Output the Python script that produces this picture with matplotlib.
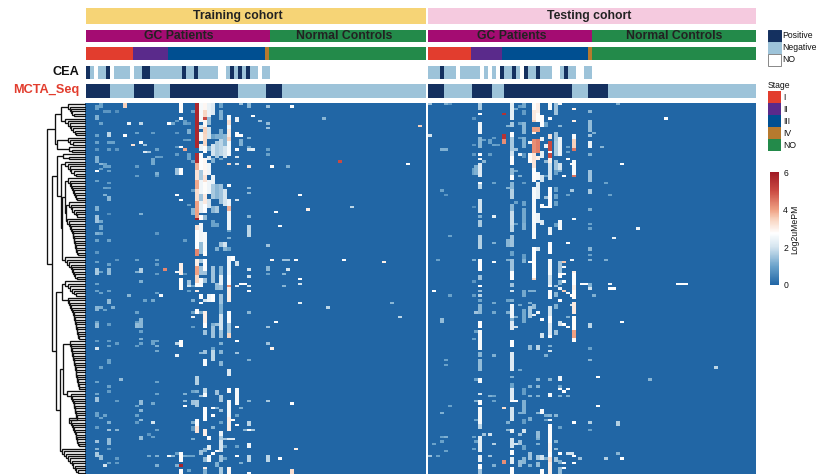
import matplotlib
matplotlib.use("Agg")
import matplotlib.pyplot as plt
import numpy as np
from matplotlib.colors import LinearSegmentedColormap
from matplotlib.patches import Rectangle

plt.rcParams['font.family'] = ['Liberation Sans', 'DejaVu Sans']

N_ROWS = 155
TRAIN_COLS = 85
TEST_COLS = 82

COHORTS = ["Training cohort", "Testing cohort"]
GROUP_LABELS = ["GC Patients", "Normal Controls"]
GROUP_TRAIN = [46, 39]
GROUP_TEST = [41, 41]
STAGE_NAMES = ["I", "II", "III", "IV", "NO"]
STAGE_TRAIN = [11.75, 8.75, 24.25, 1, 39.25]
STAGE_TEST = [10.75, 7.75, 21.5, 1, 41]
STATUS_NAMES = ["Positive", "Negative", "NO"]
# P positive, N negative, - no result
CEA_TRAIN = "PN-NNP-NNNN-NNPPNNNNNNNNPNNPNNNNN--NPNPNPNN-NN" + "-" * 39
CEA_TEST = "NNNPNNN-NNNNN-N-N-PNNPN-PNNPNNN--NPNN--NN" + "-" * 41
MCTA_TRAIN = "PPPPPP" + "N" * 6 + "P" * 5 + "N" * 4 + "P" * 17 + "N" * 7 + "P" * 4 + "N" * 36
MCTA_TEST = "PPPP" + "N" * 7 + "P" * 5 + "N" * 3 + "P" * 17 + "N" * 4 + "P" * 5 + "N" * 37

# heat map cells: column -> (first_row, end_row, value) or (row, value)
TRAIN_CELLS = {
    2: [(1, 3, 1.0), (5, 7, 1.2), (13, 1.0), (16, 1.0), (19, 0.8), (22, 25, 1.2), (28, 2.7), (32, 1.0), (43, 45, 1.2), (47, 50, 1.5), (54, 1.2), (57, 1.0), (62, 0.8), (66, 1.0), (69, 72, 1.6), (75, 1.0), (78, 1.0), (85, 87, 1.3), (91, 1.0), (92, 94, 1.4), (99, 0.9), (102, 2.0), (116, 1.0), (121, 1.1), (123, 125, 1.5), (129, 131, 1.0), (135, 0.9), (141, 1.5), (144, 1.3), (146, 148, 1.6)],
    3: [(0, 2, 1.0), (8, 1.0), (25, 26, 1.3), (27, 1.0), (49, 1.1), (51, 53, 1.1), (54, 1.0), (70, 1.0), (79, 1.0), (85, 1.2), (110, 1.0), (131, 1.0), (147, 149, 1.4)],
    4: [(3, 0.8), (25, 27, 1.0), (35, 1.0), (38, 1.2), (86, 1.0), (130, 1.0), (151, 2.0)],
    5: [(3, 0.8), (12, 14, 1.8), (16, 1.0), (19, 0.9), (26, 1.0), (28, 1.0), (33, 0.9), (35, 0.9), (39, 41, 1.3), (46, 0.7), (57, 1.0), (67, 1.0), (69, 72, 1.4), (78, 1.0), (82, 84, 1.4), (92, 0.9), (99, 0.9), (101, 1.0), (107, 109, 1.0), (118, 1.0), (120, 0.9), (133, 1.2), (136, 1.5), (140, 143, 1.4), (144, 0.9), (150, 1.0)],
    6: [(16, 1.0), (85, 1.2)],
    7: [(3, 0.7), (19, 0.8), (65, 0.8), (100, 0.9), (124, 0.9), (136, 1.3), (148, 0.9), (150, 0.9)],
    8: [(115, 1.4)],
    9: [(0, 2, 3.5), (13, 2.7)],
    10: [(8, 2.4), (80, 1.3)],
    11: [(17, 3.2)],
    12: [(12, 1.0), (26, 0.9), (30, 0.9), (65, 1.0), (70, 1.2), (87, 1.0), (91, 0.9), (92, 94, 1.4), (101, 0.9), (126, 1.0), (130, 1.0), (133, 0.9)],
    13: [(8, 1.8), (16, 2.6), (46, 1.2), (69, 71, 1.7), (74, 1.2), (90, 94, 1.3), (95, 1.0), (98, 1.2), (100, 1.0), (124, 126, 1.4), (128, 1.3), (132, 1.4), (139, 141, 1.4)],
    14: [(17, 1.5), (20, 2.2), (82, 1.0)],
    15: [(20, 1.5), (138, 0.8), (147, 1.1)],
    16: [(12, 0.9), (23, 26, 1.1), (82, 1.1), (99, 101, 1.0), (125, 1.1), (133, 2.0), (139, 1.0)],
    17: [(19, 20, 1.0), (22, 1.0), (29, 1.2), (30, 0.9), (54, 0.8), (65, 1.0), (67, 0.9), (71, 0.9), (79, 1.0), (99, 1.0), (101, 1.2), (103, 1.1), (116, 1.0), (121, 1.0), (136, 1.0), (147, 1.2), (151, 1.2)],
    18: [(22, 0.9), (80, 2.6)],
    19: [(69, 4.3)],
    20: [(8, 2.7), (147, 2.6)],
    21: [(8, 1.1), (147, 1.3)],
    22: [(7, 0.9), (12, 0.8), (18, 0.8), (21, 0.9), (27, 30, 1.5), (38, 2.7), (70, 71, 2.5), (100, 1.8), (105, 2.4), (151, 1.2), (146, 1.0)],
    23: [(0, 4, 2.8), (6, 2.7), (18, 2.7), (27, 30, 2.7), (40, 2.7), (67, 70, 3.0), (70, 72, 3.0), (73, 76, 2.8), (76, 78, 2.8), (99, 102, 2.8), (146, 150, 2.8), (151, 5.8), (153, 155, 2.8)],
    24: [(7, 0.9), (8, 1.0), (15, 0.9), (19, 3.9), (57, 0.9), (71, 0.8), (121, 1.2), (124, 1.4), (126, 2.7), (147, 1.1)],
    25: [(8, 0.8), (11, 13, 1.2), (15, 1.0), (21, 24, 1.0), (42, 0.9), (74, 76, 1.5), (76, 2.0), (78, 1.0), (147, 1.0), (153, 1.0)],
    26: [(3, 1.0), (24, 1.0), (36, 0.9), (44, 47, 1.3), (76, 1.0), (82, 1.2), (87, 1.0), (89, 2.4), (93, 0.9), (120, 1.0), (124, 126, 1.5), (133, 1.2), (135, 137, 0.9), (140, 1.2), (147, 1.0)],
    27: [(0, 19, 5.7), (21, 25, 5.6), (25, 28, 3.8), (28, 32, 3.2), (32, 36, 3.9), (36, 41, 3.3), (41, 48, 4.0), (48, 49, 5.8), (51, 53, 3.2), (53, 61, 2.7), (61, 64, 4.3), (65, 68, 3.0), (68, 72, 4.0), (72, 75, 3.4), (75, 77, 2.7), (78, 79, 3.0), (86, 88, 2.7), (114, 118, 1.7), (120, 1.2), (124, 127, 1.6), (132, 136, 2.7), (135, 138, 3.2)],
    28: [(0, 8, 2.6), (9, 11, 2.0), (12, 16, 2.6), (17, 20, 2.4), (21, 28, 2.7), (28, 32, 1.6), (32, 38, 2.5), (38, 41, 1.5), (41, 46, 2.3), (47, 49, 2.7), (50, 58, 2.5), (58, 63, 1.4), (65, 67, 1.6), (68, 72, 1.5), (73, 76, 2.6), (76, 2.7), (80, 82, 2.7), (83, 2.7), (87, 1.2), (104, 1.3), (122, 1.5), (145, 147, 1.5)],
    29: [(0, 3, 2.9), (3, 6, 3.4), (6, 7, 5.0), (7, 10, 2.9), (10, 13, 3.5), (13, 18, 3.4), (18, 21, 2.8), (23, 30, 2.9), (30, 33, 3.2), (33, 38, 2.8), (38, 42, 3.1), (42, 46, 2.7), (47, 49, 1.4), (54, 62, 2.6), (62, 64, 2.8), (65, 70, 2.7), (70, 72, 1.5), (73, 75, 1.5), (82, 2.0), (87, 92, 3.0), (92, 94, 2.7), (95, 97, 1.5), (103, 105, 1.5), (107, 110, 2.6), (119, 121, 1.8), (121, 123, 2.6), (127, 133, 2.7), (136, 139, 3.0), (144, 146, 1.3), (148, 150, 1.4), (152, 3.0), (153, 155, 1.2)],
    30: [(0, 6, 2.4), (6, 9, 1.4), (10, 15, 2.0), (18, 20, 1.3), (22, 24, 2.2), (25, 30, 2.5), (32, 38, 2.5), (40, 44, 2.0), (80, 83, 2.5), (139, 141, 2.7), (143, 145, 2.3), (147, 150, 2.6)],
    31: [(0, 5, 2.2), (13, 15, 1.0), (17, 22, 2.0), (23, 25, 1.2), (30, 34, 2.4), (34, 40, 1.6), (43, 46, 1.3), (49, 52, 1.0), (68, 75, 1.5), (80, 83, 2.7), (92, 1.2), (93, 98, 1.5), (102, 1.0), (103, 108, 1.8), (127, 2.7), (130, 2.7), (135, 1.3), (146, 2.7)],
    32: [(13, 15, 1.2), (16, 23, 1.6), (34, 40, 1.3), (43, 46, 1.6), (50, 52, 1.0), (60, 62, 1.2), (75, 76, 1.5), (76, 78, 1.4), (92, 1.5), (120, 122, 1.5), (127, 1.2), (145, 2.7), (150, 152, 1.2)],
    33: [(0, 2, 1.0), (3, 5, 1.2), (5, 7, 1.2), (11, 15, 1.2), (15, 22, 1.8), (23, 24, 1.1), (34, 42, 1.5), (58, 60, 1.5), (68, 72, 1.3), (72, 76, 2.3), (76, 78, 1.5), (80, 84, 1.5), (84, 88, 1.2), (88, 95, 2.0), (95, 98, 1.5), (100, 101, 1.2), (103, 105, 1.3), (108, 110, 1.3), (122, 125, 1.6), (128, 1.5), (133, 1.0), (137, 139, 2.4), (139, 141, 1.6), (141, 146, 2.0), (147, 150, 1.5), (152, 155, 1.6)],
    34: [(13, 18, 1.3), (18, 23, 2.0), (36, 43, 2.0), (58, 60, 2.0), (60, 62, 1.3), (140, 1.5), (143, 1.0), (148, 1.0)],
    35: [(5, 14, 2.6), (7, 9, 3.3), (11, 14, 3.1), (14, 16, 3.5), (16, 22, 2.6), (25, 26, 3.4), (34, 35, 2.7), (40, 43, 2.5), (43, 45, 3.8), (45, 53, 2.5), (53, 54, 1.0), (56, 57, 1.2), (60, 62, 1.0), (64, 72, 2.5), (72, 76, 2.7), (76, 77, 4.2), (77, 83, 3.0), (87, 92, 2.7), (92, 96, 1.6), (96, 98, 3.4), (111, 114, 2.2), (119, 121, 2.8), (124, 131, 2.6), (131, 137, 3.0), (140, 2.2), (152, 155, 2.9)],
    36: [(64, 66, 2.7), (132, 2.7), (140, 2.2)],
    37: [(6, 8, 2.4), (12, 14, 2.7), (19, 2.7), (22, 2.0), (25, 2.0), (40, 2.0), (66, 68, 2.0), (76, 2.2), (93, 2.7), (99, 2.7), (104, 1.5), (119, 126, 2.6), (130, 1.0), (134, 2.7), (143, 1.0), (147, 2.7)],
    38: [(0, 1.5), (13, 2.7), (15, 18, 1.2), (75, 2.7), (127, 1.2), (150, 1.2)],
    39: [(136, 1.3), (75, 2.7)],
    40: [(0, 2, 1.3), (14, 1.2), (18, 1.0), (19, 2.0), (26, 3.2), (35, 1.3), (37, 1.3), (47, 1.3), (51, 56, 1.8), (69, 2.0), (72, 2.0), (76, 2.0), (78, 2.7), (87, 1.3), (107, 1.2), (124, 1.3), (133, 135, 1.8), (136, 2.7), (142, 144, 2.5), (147, 150, 1.8), (154, 2.7)],
    41: [(5, 2.7), (19, 2.3), (136, 1.6)],
    43: [(7, 1.5)],
    45: [(1, 1.5), (8, 1.4), (10, 1.5), (19, 1.0), (21, 1.0), (59, 1.5), (68, 70, 1.3), (71, 1.0), (93, 1.5), (100, 1.5), (124, 1.6), (147, 150, 1.8)],
    46: [(26, 2.8), (65, 2.9), (102, 3.0)],
    47: [(45, 2.7), (91, 2.7)],
    48: [(51, 2.6), (148, 2.7)],
    49: [(65, 1.5), (71, 1.3), (76, 1.3)],
    50: [(26, 1.2), (69, 2.0), (65, 1.5)],
    51: [(1, 2.7), (125, 2.7), (153, 155, 3.3)],
    52: [(65, 2.7), (144, 3.0)],
    53: [(38, 2.7), (73, 2.7), (75, 2.0), (83, 2.3)],
    55: [(44, 3.0)],
    59: [(6, 1.3)],
    60: [(85, 1.8)],
    63: [(24, 5.0)],
    64: [(65, 2.7)],
    66: [(43, 1.8)],
    74: [(66, 3.0)],
    76: [(83, 1.3)],
    78: [(89, 1.8)],
    80: [(25, 2.7)],
    83: [(9, 3.5)],
}

TEST_CELLS = {
    0: [(0, 1.5), (13, 2.0), (147, 1.5)],
    1: [(78, 2.7), (142, 1.0)],
    2: [(65, 1.0), (147, 1.0)],
    3: [(19, 20, 1.2), (36, 1.0), (90, 92, 1.4), (129, 1.2), (139, 1.0), (141, 1.0)],
    4: [(0, 1.2), (19, 1.2), (38, 0.8), (107, 1.0), (109, 1.0), (139, 1.2), (145, 1.0)],
    5: [(0, 0.8), (80, 1.0), (126, 1.0), (55, 1.0)],
    11: [(6, 0.8), (17, 0.8), (21, 0.8), (27, 30, 1.0), (43, 0.7), (65, 1.2), (74, 0.8), (80, 0.9), (98, 1.0), (139, 1.0), (144, 1.0)],
    11.5: [(26, 30, 1.2), (87, 1.5), (95, 1.0), (115, 1.0), (124, 1.2), (132, 1.0), (141, 1.0)],
    12.5: [(0, 3, 1.6), (4, 2.7), (8, 13, 2.5), (14, 19, 1.3), (21, 2.7), (23, 2.5), (25, 31, 2.2), (33, 2.7), (34, 36, 1.8), (40, 46, 2.0), (47, 1.2), (49, 52, 1.6), (55, 61, 1.7), (65, 70, 2.7), (72, 74, 1.5), (76, 2.7), (78, 1.5), (80, 1.8), (82, 1.1), (84, 88, 1.3), (91, 94, 2.7), (95, 103, 2.6), (104, 106, 1.3), (107, 112, 1.4), (115, 117, 2.6), (121, 2.0), (124, 126, 2.7), (127, 134, 2.6), (134, 136, 1.8), (139, 146, 2.3), (147, 150, 2.4), (151, 153, 2.7), (153, 155, 1.5)],
    13.5: [(24, 1.3), (15, 1.0), (138, 1.5)],
    15: [(15, 17, 1.0), (21, 0.9), (122, 1.2), (138, 2.0), (147, 1.5)],
    16: [(14, 0.9), (17, 1.0), (33, 1.0), (47, 2.3), (58, 1.2), (66, 2.6), (83, 1.1), (87, 1.1), (105, 1.2), (122, 1.0), (124, 1.0), (142, 1.7), (151, 1.2)],
    17: [(17, 0.9)],
    18.5: [(4, 5.5), (13, 15, 5.5), (15, 17, 4.2), (127, 3.3), (149, 151, 4.2)],
    19.5: [(57, 60, 1.3), (9, 1.2), (35, 1.2), (65, 1.2), (82, 1.0), (87, 1.2), (133, 1.2), (136, 1.3)],
    20.5: [(0, 7, 2.3), (8, 10, 1.6), (12, 14, 2.7), (14, 20, 1.6), (20, 22, 2.0), (22, 26, 2.7), (27, 30, 1.4), (30, 32, 2.7), (33, 36, 1.3), (36, 40, 1.7), (42, 45, 1.3), (45, 51, 1.9), (51, 54, 1.8), (55, 60, 1.5), (62, 64, 1.0), (65, 70, 1.5), (70, 74, 2.7), (75, 77, 1.5), (78, 2.0), (82, 1.2), (84, 90, 2.5), (90, 92, 1.2), (91, 95, 2.2), (99, 102, 2.7), (104, 112, 2.2), (114, 1.2), (117, 119, 1.0), (119, 124, 2.2), (124, 125, 2.7), (127, 133, 2.0), (136, 138, 2.4), (140, 144, 2.0), (145, 147, 2.7), (148, 151, 2.3), (152, 155, 2.7)],
    21.5: [(2, 1.1), (19, 1.5), (28, 1.1), (41, 1.0), (50, 1.0), (89, 1.2), (93, 2.0), (124, 2.7), (142, 2.0)],
    22.5: [(1, 0.9), (8, 1.0), (14, 0.9), (21, 2.3), (30, 1.2), (84, 1.1), (111, 1.1), (129, 1.2), (138, 1.5), (141, 143, 1.5), (149, 152, 1.4)],
    23.5: [(0, 2, 1.1), (3, 5, 0.9), (8, 13, 1.3), (14, 19, 1.2), (21, 23, 0.8), (33, 0.9), (41, 43, 1.0), (44, 50, 1.1), (50, 53, 1.2), (63, 65, 0.9), (65, 67, 1.2), (78, 81, 1.1), (86, 92, 1.1), (119, 122, 0.9), (124, 130, 1.2), (132, 134, 0.9), (136, 138, 2.0), (143, 145, 1.0), (148, 151, 1.3)],
    25: [(16, 2.5), (21, 25, 2.8), (66, 2.7), (78, 1.2), (83, 1.2), (85, 90, 1.6), (101, 103, 1.4), (118, 1.2), (122, 1.3), (131, 133, 1.2), (146, 149, 1.5), (151, 1.2)],
    26: [(0, 3, 2.8), (3, 7, 3.1), (7, 8, 3.5), (10, 12, 4.0), (12, 13, 3.0), (15, 21, 4.2), (21, 27, 3.2), (27, 30, 2.7), (30, 33, 2.8), (35, 46, 2.6), (46, 57, 2.6), (60, 73, 2.7), (73, 74, 3.4), (78, 1.2), (84, 86, 1.4), (88, 2.4)],
    27: [(0, 4, 3.0), (4, 8, 2.8), (10, 12, 4.0), (15, 21, 4.4), (22, 24, 3.0), (29, 32, 2.6), (33, 40, 2.3), (46, 50, 2.4), (60, 62, 2.0), (87, 2.6), (101, 103, 1.8), (115, 1.3), (118, 1.3), (122, 1.2), (129, 1.3), (137, 140, 1.4), (140, 1.2), (142, 1.2), (147, 149, 1.6), (150, 152, 1.4)],
    28: [(5, 10, 2.7), (14, 16, 2.4), (20, 23, 2.3), (30, 33, 2.0), (42, 44, 2.7), (49, 51, 2.2), (90, 2.7), (96, 98, 2.0), (128, 130, 2.6), (147, 149, 2.0), (153, 155, 2.7)],
    29: [(8, 10, 1.0), (17, 19, 2.4), (24, 25, 1.4), (30, 31, 1.0), (39, 40, 1.5), (43, 44, 2.7), (105, 1.2), (130, 1.2), (132, 1.0), (148, 1.2)],
    30: [(0, 3, 2.6), (6, 2.7), (13, 15, 3.2), (16, 20, 5.0), (20, 21, 2.7), (21, 23, 5.0), (23, 25, 3.0), (25, 32, 2.0), (35, 40, 2.7), (40, 44, 2.7), (52, 55, 2.4), (58, 63, 2.7), (65, 72, 2.6), (72, 76, 2.0), (76, 2.7), (78, 82, 2.7), (85, 89, 2.0), (89, 92, 2.8), (92, 97, 2.2), (97, 98, 2.7), (101, 1.2), (103, 2.0), (115, 1.3), (121, 123, 2.6), (130, 1.3), (132, 2.5), (134, 142, 2.7), (142, 146, 2.9), (146, 148, 2.7), (148, 150, 3.3), (150, 155, 3.0)],
    31.5: [(0, 5, 1.5), (12, 16, 1.5), (16, 22, 1.6), (24, 28, 1.5), (28, 30, 1.0), (35, 37, 1.0), (38, 40, 1.0), (41, 43, 1.0), (50, 52, 1.0), (76, 1.5), (79, 81, 1.3), (84, 86, 1.2), (95, 97, 1.5), (130, 1.3), (141, 1.2), (144, 1.4), (148, 150, 1.5)],
    32.5: [(0, 2.6), (9, 1.3), (14, 22, 2.4), (25, 28, 2.0), (28, 1.2), (49, 53, 2.6), (66, 72, 1.5), (71, 73, 2.7), (74, 76, 1.2), (77, 2.5), (82, 2.7), (91, 93, 2.0), (114, 116, 2.5), (118, 1.0), (119, 2.7), (122, 1.2), (135, 1.0), (146, 2.7), (149, 151, 1.2), (152, 155, 1.4)],
    33.5: [(30, 2.7), (66, 3.6), (68, 2.7), (71, 2.7), (74, 2.7), (92, 2.7), (78, 3.5), (120, 2.7), (150, 2.7), (152, 2.7)],
    34.5: [(18, 1.0), (20, 1.0), (23, 2.7), (38, 1.0), (58, 2.7), (79, 2.6), (89, 1.2), (93, 2.7), (119, 2.7), (122, 1.2), (146, 2.0)],
    35.5: [(25, 2.7), (36, 1.6), (65, 2.5), (80, 2.7), (84, 2.0), (146, 2.0)],
    36: [(2, 3.0), (7, 3.0), (13, 15, 2.6), (15, 19, 3.5), (19, 20, 4.5), (24, 30, 2.6), (30, 31, 4.5), (48, 2.6), (70, 3.0), (71, 76, 2.7), (76, 78, 3.0), (78, 82, 2.8), (83, 88, 3.1), (89, 95, 2.8), (95, 98, 4.0), (98, 100, 2.8), (133, 2.7), (147, 2.7), (150, 2.7)],
    37.5: [(148, 1.5)],
    38: [(75, 2.7)],
    39: [(75, 2.7)],
    40: [(3, 1.3), (7, 12, 1.4), (13, 1.5), (16, 19, 2.4), (21, 1.2), (28, 33, 1.5), (36, 38, 1.6), (44, 1.2), (50, 1.0), (52, 1.0), (60, 62, 1.3), (63, 1.0), (65, 1.3), (75, 77, 1.2), (77, 2.0), (92, 94, 1.8), (102, 1.0), (107, 1.3), (133, 1.7), (136, 1.0)],
    41: [(12, 1.2), (80, 1.2)],
    42: [(114, 2.7), (126, 2.7)],
    43: [(18, 1.3)],
    44: [(33, 1.0), (148, 1.7), (65, 1.2)],
    45: [(38, 1.0), (75, 2.5), (77, 2.7)],
    46: [(56, 2.4), (77, 2.7)],
    47: [(0, 1.2), (133, 135, 1.7), (146, 1.3)],
    48: [(25, 2.7), (91, 2.7), (148, 2.7)],
    52: [(52, 2.5)],
    55: [(115, 1.3)],
    59: [(6, 2.7)],
    62: [(75, 2.7)],
    63: [(75, 2.7)],
    64: [(75, 2.7)],
    71.5: [(110, 1.8)],
}

# dendrogram: merge heights of each ladder of leaves, top to bottom
A1 = [18, 16, 15, 14, 12]
A2 = [21, 18, 16, 15, 13, 11, 10]
B1 = [18, 16, 13]
B2 = [17, 14]
C1 = [23, 17]
C3 = [21, 18, 16, 15, 12, 10]
C5A = [18, 16, 15, 14, 13, 12, 11, 10, 9]
C5B = [17, 15, 14, 12, 10, 9]
C5C = [19, 17, 16, 15, 14, 13, 13, 12, 12, 11, 11, 10, 10, 9, 8]
C6 = [21, 19, 17, 15, 14, 13, 12, 11, 9]
E1 = [21, 18, 16, 14, 12, 10]
E2 = [18, 17, 16, 15, 14, 13, 12, 12, 11, 11, 10, 10, 9, 9, 8, 8, 7]
F1 = [16, 15, 15, 14, 14, 13, 13, 12, 12, 11, 11, 10, 10, 10, 9, 9, 8, 8, 7, 7]
F2 = [19, 15, 14, 13, 12, 12, 11, 11, 10, 10, 9, 17, 15, 14, 13, 12, 11, 10, 10, 9, 9, 8, 7]
G = [24, 22, 20, 18, 16, 14, 13, 11, 10, 8]

TREE = (39,
        (30.7, (24.3, A1, A2), (29, B1, B2)),
        (33.3,
         (29, C1, (25, C3, (23.3, (21, C5A, (19.5, C5B, C5C)), C6))),
         (29.3, (24, E1, E2), (26, (22.5, F1, F2), G))))

cmap = LinearSegmentedColormap.from_list("log2", [
    (0.0, "#2166A5"), (1 / 6, "#6BA3CB"), (2 / 6, "#D3E4EF"), (2.75 / 6, "#FFFFFF"),
    (3.5 / 6, "#F8D2BD"), (4 / 6, "#EFA083"), (5 / 6, "#CB4B43"), (1.0, "#A01A25")])

W, H = 830, 476
fig = plt.figure(figsize=(W / 100, H / 100), dpi=100)
STATUS_COLORS = {"P": "#14305F", "N": "#9DC3D9", "-": "#FFFFFF"}
STAGE_COLORS = ["#E23D2E", "#5A2A8B", "#004F91", "#B67A2E", "#238A4A"]
GROUP_COLORS = ["#A40C72", "#238A4A"]
COHORT_COLORS = ["#F6D476", "#F5CADF"]


def px_axes(x0, y0, x1, y1):
    ax = fig.add_axes([x0 / W, 1 - y1 / H, (x1 - x0) / W, (y1 - y0) / H])
    ax.set_axis_off()
    return ax


def segments(ax, widths, colors, n):
    left = 0
    for w, c in zip(widths, colors):
        ax.barh(0, w, left=left, height=1, color=c, linewidth=0)
        left += w
    ax.set_xlim(0, n)
    ax.set_ylim(-0.5, 0.5)


def status_strip(ax, codes, n):
    ax.bar(np.arange(n) + 0.5, [1] * n, width=1.0, bottom=-0.5,
           color=[STATUS_COLORS[c] for c in codes], linewidth=0)
    ax.set_xlim(0, n)
    ax.set_ylim(-0.5, 0.5)


def cells_to_matrix(cells, n, pad):
    m = np.zeros((N_ROWS, n * 2 + pad))
    for col, runs in cells.items():
        c = int(col * 2) + pad
        for run in runs:
            r0, r1, v = run if len(run) == 3 else (run[0], run[0] + 1, run[1])
            m[r0:r1, c:c + 2] = v
    return m


panels = [
    (86, 426, 84.5, 425.3, TRAIN_COLS, GROUP_TRAIN, STAGE_TRAIN, CEA_TRAIN, MCTA_TRAIN, TRAIN_CELLS, 0, 1),
    (428, 756, 428, 756, TEST_COLS, GROUP_TEST, STAGE_TEST, CEA_TEST, MCTA_TEST, TEST_CELLS, 1, 0),
]
for xa, xb, hx0, hx1, n, grp, stg, cea, mcta, cells, i, pad in panels:
    ax = px_axes(xa, 8, xb, 23.5)
    segments(ax, [n], [COHORT_COLORS[i]], n)
    ax = px_axes(xa, 30, xb, 42)
    segments(ax, grp, GROUP_COLORS, n)
    ax = px_axes(xa, 47, xb, 60)
    segments(ax, stg, STAGE_COLORS, n)
    ax = px_axes(xa, 66, xb, 78.5)
    status_strip(ax, cea, n)
    ax = px_axes(xa, 84.5, xb, 98)
    status_strip(ax, mcta, n)
    ax = px_axes(hx0, 103, hx1, 474)
    ax.imshow(cells_to_matrix(cells, n, pad), cmap=cmap, vmin=0, vmax=6, aspect="auto",
              interpolation="nearest", extent=(-pad / 2, n, N_ROWS, 0))

# row titles and header labels
lay = px_axes(0, 0, W, H)
lay.set_xlim(0, W)
lay.set_ylim(H, 0)
lay.patch.set_alpha(0)
for x, lab in zip([237.5, 589], COHORTS):
    lay.text(x, 15.5, lab, ha="center", va="center", fontsize=8.8, fontweight="bold", color="#222222")
for x, lab in zip([179, 344.5, 511.5, 674.5], GROUP_LABELS * 2):
    lay.text(x, 36, lab, ha="center", va="center", fontsize=8.8, fontweight="bold", color="#222222")
lay.text(79.5, 72, "CEA", ha="right", va="center", fontsize=9.2, fontweight="bold", color="#111111")
lay.text(79.5, 89.5, "MCTA_Seq", ha="right", va="center", fontsize=9.2, fontweight="bold", color="#E23D2E")

# status legend
for k, name in enumerate(STATUS_NAMES):
    color = [STATUS_COLORS["P"], STATUS_COLORS["N"], "#FFFFFF"][k]
    lay.add_patch(Rectangle((767.5, 30 + 12 * k), 13, 12, facecolor=color,
                            edgecolor="#888888" if k == 2 else color, linewidth=0.7))
    lay.text(782, 36 + 12 * k, name, ha="left", va="center", fontsize=6.2, color="#111111")

# stage legend
lay.text(768, 85, "Stage", ha="left", va="center", fontsize=6.2, color="#111111")
for k, name in enumerate(STAGE_NAMES):
    lay.add_patch(Rectangle((768, 91 + 12 * k), 12.5, 12, facecolor=STAGE_COLORS[k], linewidth=0))
    lay.text(783, 97 + 12 * k, name, ha="left", va="center", fontsize=6.2, color="#111111")

# colour bar
cax = fig.add_axes([770 / W, 1 - 285 / H, 9 / W, 113 / H])
sm = plt.cm.ScalarMappable(norm=plt.Normalize(0, 6), cmap=cmap)
cb = fig.colorbar(sm, cax=cax, ticks=[0, 2, 4, 6])
cb.outline.set_visible(False)
cb.ax.tick_params(length=0, labelsize=6.2, pad=3, labelcolor="#111111")
lay.text(794.5, 229, "Log2uMePM", rotation=90, ha="center", va="center", fontsize=6.2, color="#111111")

# dendrogram
dax = px_axes(45.5, 103, 85.5, 474)
dax.set_xlim(40, 0)
dax.set_ylim(N_ROWS, 0)
next_leaf = [0]


def leaf():
    y = next_leaf[0] + 0.5
    next_leaf[0] += 1
    return 0.0, y


def link(h, a, b):
    dax.plot([a[0], h, h, b[0]], [a[1], a[1], b[1], b[1]], color="#111111", lw=0.95,
             solid_joinstyle="miter", solid_capstyle="butt")
    return h, (a[1] + b[1]) / 2


def ladder(heights):
    top = [leaf() for _ in heights]
    node = leaf()
    for h, t in zip(heights[::-1], top[::-1]):
        node = link(h, t, node)
    return node


def walk(t):
    if isinstance(t, list):
        return ladder(t)
    return link(t[0], walk(t[1]), walk(t[2]))


walk(TREE)

fig.savefig("out.png", dpi=100)
